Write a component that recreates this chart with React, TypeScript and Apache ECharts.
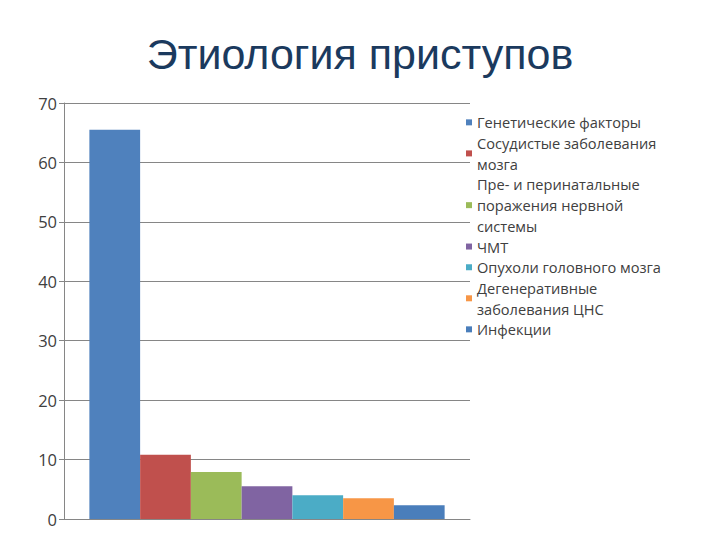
import React, { useEffect, useRef } from "react";
import * as echarts from "echarts";

const categories = ["Этиология"];
const seriesNames = [
  "Генетические факторы",
  "Сосудистые заболевания мозга",
  "Пре- и перинатальные поражения нервной системы",
  "ЧМТ",
  "Опухоли головного мозга",
  "Дегенеративные заболевания ЦНС",
  "Инфекции",
];
const legendLabels = [
  "Генетические факторы",
  "Сосудистые заболевания\nмозга",
  "Пре- и перинатальные\nпоражения нервной\nсистемы",
  "ЧМТ",
  "Опухоли головного мозга",
  "Дегенеративные\nзаболевания ЦНС",
  "Инфекции",
];
const seriesValues = [65.5, 10.8, 7.9, 5.5, 4.0, 3.5, 2.3];
const seriesColors = ["#4F81BD", "#C0504D", "#9BBB59", "#8064A2", "#4BACC6", "#F79646", "#4A7EBB"];
const yTicks = { min: 0, max: 70, interval: 10 };

export default function App() {
  const ref = useRef<HTMLDivElement>(null);
  useEffect(() => {
    if (!ref.current) return;
    const chart = echarts.init(ref.current, undefined, { renderer: "svg" });
    const fontFamily = "'Open Sans', 'Noto Sans', sans-serif";
    chart.setOption({
      animation: false,
      backgroundColor: "#ffffff",
      title: {
        text: "Этиология приступов",
        left: "center",
        top: 27,
        textStyle: {
          fontFamily: "'Liberation Sans', Arial, sans-serif",
          fontSize: 43,
          fontWeight: "normal",
          color: "#1B3A5E",
        },
      },
      legend: {
        orient: "vertical",
        left: 466,
        top: 112,
        padding: 0,
        itemWidth: 6,
        itemHeight: 6,
        itemGap: 0,
        icon: "rect",
        data: seriesNames,
        formatter: (name: string) => legendLabels[seriesNames.indexOf(name)],
        textStyle: {
          fontFamily,
          fontSize: 14.6,
          lineHeight: 20.7,
          color: "#404040",
          padding: [0, 0, 0, 0],
        },
      },
      grid: { left: 64, right: 250, top: 103, bottom: 21, containLabel: false },
      xAxis: {
        type: "category",
        data: categories,
        axisLine: { show: true, lineStyle: { color: "#868686", width: 1 } },
        axisTick: { show: false },
        axisLabel: { show: false },
      },
      yAxis: {
        type: "value",
        min: yTicks.min,
        max: yTicks.max,
        interval: yTicks.interval,
        axisLine: { show: true, lineStyle: { color: "#868686", width: 1 } },
        axisTick: { show: true, length: 5, lineStyle: { color: "#868686" } },
        splitLine: { show: true, lineStyle: { color: "#868686", width: 1 } },
        axisLabel: {
          fontFamily,
          fontSize: 16.5,
          color: "#404040",
          margin: 7,
        },
      },
      series: seriesNames.map((name, i) => ({
        name,
        type: "bar",
        data: [seriesValues[i]],
        barGap: "0%",
        barCategoryGap: "12.5%",
        itemStyle: { color: seriesColors[i] },
      })),
    });
    return () => chart.dispose();
  }, []);
  return (
    <div
      ref={ref}
      style={{ position: "fixed", left: 0, top: 0, width: 720, height: 540 }}
    />
  );
}
